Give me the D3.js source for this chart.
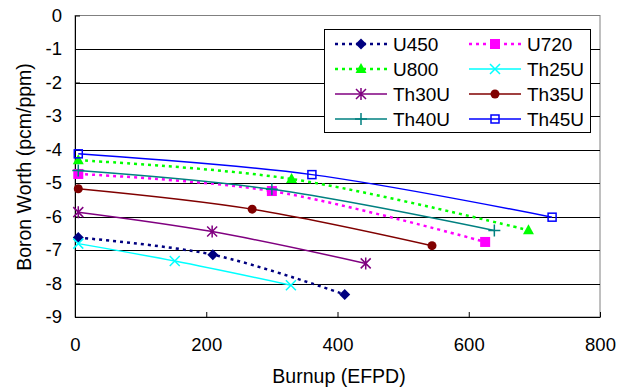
<!DOCTYPE html>
<html>
<head>
<meta charset="utf-8">
<script src="https://cdn.jsdelivr.net/npm/d3@7"></script>
<style>
  body { margin: 0; background: #fff; }
  text { font-family: Arial, "Liberation Sans", sans-serif; fill: #000; }
</style>
</head>
<body>
<svg id="chart" width="618" height="391"></svg>
<script>
// data (burnup EFPD, boron worth pcm/ppm)
const seriesNames = ["U450", "U720", "U800", "Th25U", "Th30U", "Th35U", "Th40U", "Th45U"];
const u450  = [[5, -6.63], [210, -7.14], [411, -8.33]];
const u720  = [[5, -4.73], [300, -5.24], [625, -6.76]];
const u800  = [[5, -4.32], [330, -4.88], [691, -6.41]];
const th25u = [[5, -6.81], [152, -7.33], [329, -8.05]];
const th30u = [[5, -5.87], [209, -6.45], [443, -7.40]];
const th35u = [[5, -5.17], [270, -5.78], [544, -6.87]];
const th40u = [[5, -4.63], [300, -5.19], [639, -6.42]];
const th45u = [[5, -4.13], [361, -4.75], [727, -6.02]];
const xTicks = [0, 200, 400, 600, 800];
const yTicks = [0, -1, -2, -3, -4, -5, -6, -7, -8, -9];

const seriesData = [u450, u720, u800, th25u, th30u, th35u, th40u, th45u];
const styles = [
  { color: "#000080", dash: "3,4", marker: "diamond" },
  { color: "#FF00FF", dash: "3,4", marker: "square" },
  { color: "#00FF00", dash: "3,4", marker: "triangle" },
  { color: "#00FFFF", dash: null, marker: "x" },
  { color: "#800080", dash: null, marker: "star" },
  { color: "#800000", dash: null, marker: "circle" },
  { color: "#008080", dash: null, marker: "plus" },
  { color: "#0000FF", dash: null, marker: "open" }
];

const svg = d3.select("#chart");
const x = d3.scaleLinear().domain([0, 800]).range([75, 600]);
const y = d3.scaleLinear().domain([-9, 0]).range([317, 15.5]);

// plot frame
svg.append("rect")
  .attr("x", 75).attr("y", 15.5).attr("width", 525).attr("height", 301.5)
  .attr("fill", "none").attr("stroke", "#808080");

// gridlines
svg.append("g").selectAll("line")
  .data(yTicks.filter(d => d < 0 && d > -9))
  .join("line")
    .attr("x1", 75).attr("x2", 600)
    .attr("y1", d => Math.round(y(d)) + 0.5).attr("y2", d => Math.round(y(d)) + 0.5)
    .attr("stroke", "#000");

// axes (plain hyphen for negatives, like the original)
const xAxis = svg.append("g")
  .attr("transform", `translate(0,${y(-9)})`)
  .call(d3.axisBottom(x).tickValues(xTicks).tickFormat(d => String(d))
    .tickSizeInner(-5).tickSizeOuter(0).tickPadding(21));
const yAxis = svg.append("g")
  .attr("transform", `translate(${x(0)},0)`)
  .call(d3.axisLeft(y).tickValues(yTicks).tickFormat(d => String(d))
    .tickSizeInner(-5).tickSizeOuter(0).tickPadding(13));
[xAxis, yAxis].forEach(a => {
  a.select(".domain").attr("stroke", "#000");
  a.selectAll(".tick line").attr("stroke", "#000");
  a.selectAll("text").attr("font-size", 18.5).attr("font-family", "Arial, 'Liberation Sans', sans-serif").attr("fill", "#000");
});

svg.append("text")
  .attr("x", 339).attr("y", 383)
  .attr("text-anchor", "middle").attr("font-size", 19.5)
  .text("Burnup (EFPD)");
svg.append("text")
  .attr("transform", "rotate(-90)")
  .attr("x", -167).attr("y", 31)
  .attr("text-anchor", "middle").attr("font-size", 19.5)
  .text("Boron Worth (pcm/ppm)");

// markers
function drawMarker(sel, kind, color) {
  if (kind === "diamond") {
    sel.append("path").attr("d", "M0,-5.5L5.5,0L0,5.5L-5.5,0Z").attr("fill", color);
  } else if (kind === "square") {
    sel.append("rect").attr("x", -5).attr("y", -5).attr("width", 10).attr("height", 10).attr("fill", color);
  } else if (kind === "triangle") {
    sel.append("path").attr("d", "M0,-6L5.5,4L-5.5,4Z").attr("fill", color);
  } else if (kind === "x") {
    sel.append("path").attr("d", "M-5,-5L5,5M-5,5L5,-5").attr("stroke", color).attr("stroke-width", 1.5);
  } else if (kind === "star") {
    sel.append("path").attr("d", "M-5,-5L5,5M-5,5L5,-5M0,-6L0,6").attr("stroke", color).attr("stroke-width", 1.5);
  } else if (kind === "circle") {
    sel.append("circle").attr("r", 4.5).attr("fill", color);
  } else if (kind === "plus") {
    sel.append("path").attr("d", "M-6,0L6,0M0,-6L0,6").attr("stroke", color).attr("stroke-width", 1.5);
  } else if (kind === "open") {
    sel.append("rect").attr("x", -4).attr("y", -4).attr("width", 8).attr("height", 8)
      .attr("fill", "none").attr("stroke", color).attr("stroke-width", 1.5);
  }
}

const line = d3.line()
  .x(d => x(d[0])).y(d => y(d[1]))
  .curve(d3.curveCatmullRom.alpha(0.5));

seriesData.forEach((data, i) => {
  const st = styles[i];
  svg.append("path")
    .datum(data)
    .attr("d", line)
    .attr("fill", "none")
    .attr("stroke", st.color)
    .attr("stroke-width", st.dash ? 2.5 : 1.5)
    .attr("stroke-dasharray", st.dash);
  data.forEach(p => {
    const m = svg.append("g").attr("transform", `translate(${x(p[0])},${y(p[1])})`);
    drawMarker(m, st.marker, st.color);
  });
});

// legend
const legend = svg.append("g");
legend.append("rect")
  .attr("x", 324.5).attr("y", 29.5).attr("width", 266).attr("height", 103)
  .attr("fill", "#fff").attr("stroke", "#000");
seriesNames.forEach((name, i) => {
  const st = styles[i];
  const col = i % 2, row = Math.floor(i / 2);
  const lx = col === 0 ? 335 : 469;
  const ly = 44 + row * 25;
  legend.append("line")
    .attr("x1", lx).attr("x2", lx + 52).attr("y1", ly).attr("y2", ly)
    .attr("stroke", st.color)
    .attr("stroke-width", st.dash ? 2.5 : 1.5)
    .attr("stroke-dasharray", st.dash);
  drawMarker(legend.append("g").attr("transform", `translate(${lx + 26},${ly})`), st.marker, st.color);
  legend.append("text")
    .attr("x", lx + 58).attr("y", ly + 6.5)
    .attr("font-size", 19)
    .text(name);
});
</script>
</body>
</html>
